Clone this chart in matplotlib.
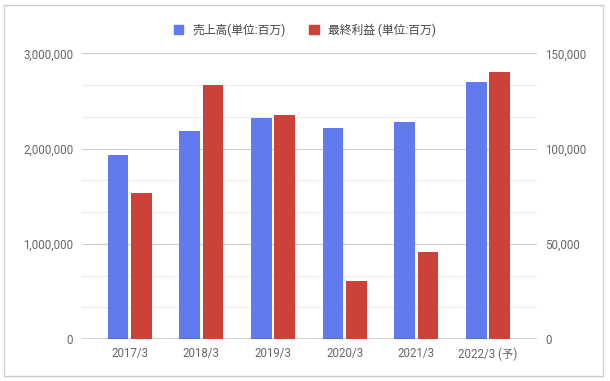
import numpy as np
import matplotlib
matplotlib.use("Agg")
import matplotlib.pyplot as plt
from matplotlib.patches import Rectangle
from matplotlib.ticker import FuncFormatter, MultipleLocator

# data
years = ["2017/3", "2018/3", "2019/3", "2020/3", "2021/3", "2022/3 (予)"]
sales = [1937000, 2185000, 2318000, 2219000, 2279000, 2703000]      # 売上高 (left axis)
net_income = [76500, 133300, 117600, 30600, 45800, 140000]          # 最終利益 (right axis)

label_sales = "売上高(単位:百万)"
label_income = "最終利益 (単位:百万)"

blue = "#617BEE"
red = "#CC4238"
grey_text = "#666666"

plt.rcParams["font.family"] = ["Roboto", "Noto Sans CJK JP", "DejaVu Sans"]

fig = plt.figure(figsize=(6.1, 3.81), dpi=100)

# light frame around the whole chart
fig.patches.append(Rectangle((4 / 610, 5 / 381), 599 / 610, 371 / 381,
                             transform=fig.transFigure, fill=False,
                             edgecolor="#cccccc", linewidth=1.0))

ax = fig.add_axes([81.7 / 610, 1 - 339 / 381, 455 / 610, 285.7 / 381])
ax2 = ax.twinx()

x = np.arange(len(years))
w = 0.29
off = 0.163

ax.bar(x - off, sales, width=w, color=blue, zorder=3)
ax2.bar(x + off, net_income, width=w, color=red, zorder=3)

ax.set_xlim(-0.67, len(years) - 1 + 0.68)
ax.set_ylim(0, 3000000)
ax2.set_ylim(0, 150000)

ax.yaxis.set_major_locator(MultipleLocator(1000000))
ax.yaxis.set_minor_locator(MultipleLocator(1000000 / 3))
ax2.yaxis.set_major_locator(MultipleLocator(50000))

fmt = FuncFormatter(lambda v, p: f"{int(v):,}")
ax.yaxis.set_major_formatter(fmt)
ax2.yaxis.set_major_formatter(fmt)

ax.grid(which="major", axis="y", color="#cccccc", linewidth=0.8, zorder=0)
ax.grid(which="minor", axis="y", color="#ebebeb", linewidth=0.8, zorder=0)
ax.axhline(0, color="#333333", linewidth=1.0, zorder=4)

for a in (ax, ax2):
    for s in a.spines.values():
        s.set_visible(False)

ax.set_xticks(x)
ax.set_xticklabels(years)
ax.tick_params(axis="x", length=0, pad=6, labelsize=8.3, colors=grey_text)
ax.tick_params(axis="y", which="both", length=0, pad=6, labelsize=8.3, colors=grey_text)
ax2.tick_params(axis="y", length=0, pad=6, labelsize=8.3, colors=grey_text)

handles = [Rectangle((0, 0), 1, 1, color=blue), Rectangle((0, 0), 1, 1, color=red)]
fig.legend(handles, [label_sales, label_income], loc="center",
           bbox_to_anchor=(0.5, 1 - 30 / 381), ncol=2, frameon=False,
           fontsize=8.5, handlelength=0.8, handleheight=0.8,
           handletextpad=0.8, columnspacing=2.0, labelcolor="#444444")

fig.savefig("out.png", dpi=100)
